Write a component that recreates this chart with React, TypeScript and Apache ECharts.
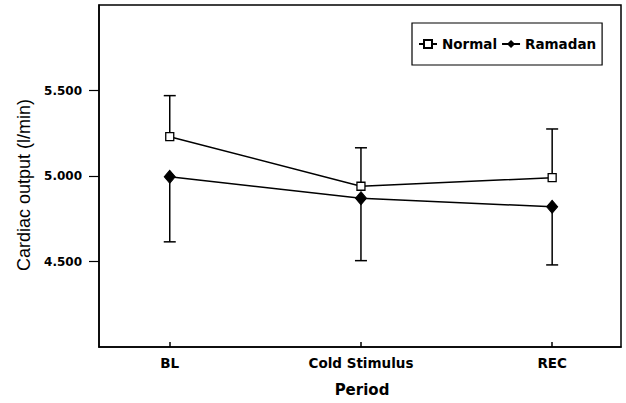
import React, { useEffect, useRef } from "react";
import * as echarts from "echarts";

const categories = ["BL", "Cold Stimulus", "REC"];
const normalMean = [5.23, 4.94, 4.99];
const normalUpper = [5.47, 5.165, 5.275];
const ramadanMean = [4.995, 4.87, 4.82];
const ramadanLower = [4.615, 4.505, 4.48];
const yTicks = [4.5, 5.0, 5.5];
const xTicks = [0, 1, 2];

const BOLD = "DejaVu Sans";
const X_MIN = -0.37;
const X_MAX = 2.36;
const Y_MIN = 4.0;
const Y_MAX = 6.0;

function errorBarSeries(name: string, means: number[], bounds: number[]) {
  return {
    type: "custom",
    name: name + "-err",
    z: 2,
    silent: true,
    data: means.map((m, i) => [i, m, bounds[i]]),
    renderItem: (params: any, api: any) => {
      const x = api.value(0);
      const p0 = api.coord([x, api.value(1)]);
      const p1 = api.coord([x, api.value(2)]);
      const hw = 6;
      const style = { stroke: "#000", lineWidth: 1.5 };
      return {
        type: "group",
        children: [
          { type: "line", shape: { x1: p0[0], y1: p0[1], x2: p1[0], y2: p1[1] }, style },
          { type: "line", shape: { x1: p1[0] - hw, y1: p1[1], x2: p1[0] + hw, y2: p1[1] }, style },
        ],
      };
    },
  };
}

export default function App() {
  const ref = useRef<HTMLDivElement>(null);
  useEffect(() => {
    document.body.style.margin = "0";
    if (!ref.current) return;
    const chart = echarts.init(ref.current, null, { renderer: "svg" });
    chart.setOption({
      animation: false,
      backgroundColor: "#fff",
      grid: {
        left: 99,
        right: 5,
        top: 5,
        bottom: 56,
        show: true,
        borderColor: "#000",
        borderWidth: 1.5,
      },
      legend: {
        left: 412,
        top: 23,
        orient: "horizontal",
        borderColor: "#000",
        borderWidth: 1.2,
        padding: [14, 6, 14, 6],
        itemWidth: 18,
        itemHeight: 10,
        itemGap: 4,
        data: ["Normal", "Ramadan"],
        textStyle: { fontFamily: BOLD, fontWeight: "bold", fontSize: 13.5, color: "#000" },
      },
      xAxis: {
        type: "value",
        min: X_MIN,
        max: X_MAX,
        splitLine: { show: false },
        axisLine: { show: true, onZero: false, lineStyle: { color: "#000", width: 1.5 } },
        axisTick: {
          show: true,
          inside: true,
          length: 5,
          customValues: xTicks,
          lineStyle: { color: "#000", width: 1.5 },
        },
        axisLabel: {
          customValues: xTicks,
          margin: 9,
          formatter: (v: number) => categories[Math.round(v)] ?? "",
          fontFamily: BOLD,
          fontWeight: "bold",
          fontSize: 13.5,
          color: "#000",
        },
      },
      yAxis: {
        type: "value",
        min: Y_MIN,
        max: Y_MAX,
        splitLine: { show: false },
        axisLine: { show: true, onZero: false, lineStyle: { color: "#000", width: 1.5 } },
        axisTick: {
          show: true,
          length: 10,
          customValues: yTicks,
          lineStyle: { color: "#000", width: 1.2 },
        },
        axisLabel: {
          customValues: yTicks,
          margin: 17,
          formatter: (v: number) => v.toFixed(3),
          fontFamily: BOLD,
          fontWeight: "bold",
          fontSize: 12,
          color: "#000",
        },
      },
      graphic: [
        {
          type: "text",
          x: 24,
          y: 185,
          rotation: Math.PI / 2,
          style: {
            text: "Cardiac output (l/min)",
            font: "18px 'Liberation Sans', Arial, sans-serif",
            fill: "#000",
            textAlign: "center",
            textVerticalAlign: "middle",
          },
        },
        {
          type: "text",
          x: 362,
          y: 390,
          style: {
            text: "Period",
            font: "bold 15px 'DejaVu Sans', sans-serif",
            fill: "#000",
            textAlign: "center",
            textVerticalAlign: "middle",
          },
        },
      ],
      series: [
        errorBarSeries("Normal", normalMean, normalUpper),
        errorBarSeries("Ramadan", ramadanMean, ramadanLower),
        {
          type: "line",
          name: "Normal",
          z: 3,
          data: normalMean.map((v, i) => [i, v]),
          symbol: "rect",
          symbolSize: 8,
          showAllSymbol: true,
          lineStyle: { color: "#000", width: 1.5 },
          itemStyle: { color: "#fff", borderColor: "#000", borderWidth: 1.3 },
        },
        {
          type: "line",
          name: "Ramadan",
          z: 3,
          data: ramadanMean.map((v, i) => [i, v]),
          symbol: "diamond",
          symbolSize: [11, 13],
          showAllSymbol: true,
          lineStyle: { color: "#000", width: 1.5 },
          itemStyle: { color: "#000", borderColor: "#000" },
        },
      ],
    });
    return () => chart.dispose();
  }, []);
  return <div ref={ref} style={{ width: 626, height: 403 }} />;
}
